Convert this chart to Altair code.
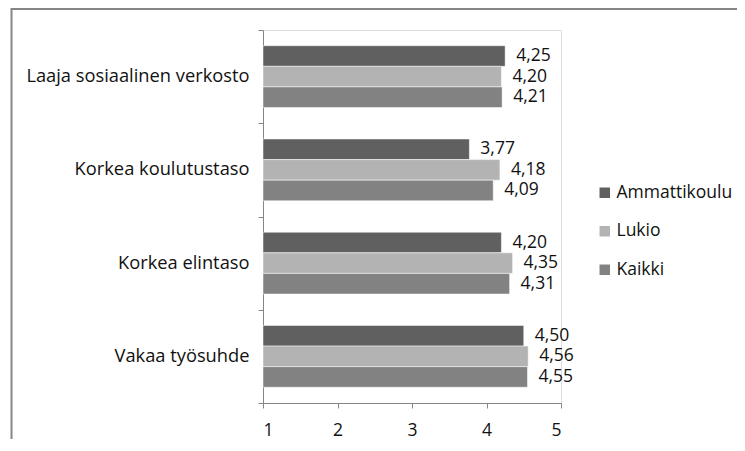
import altair as alt
import pandas as pd

categories = ["Laaja sosiaalinen verkosto", "Korkea koulutustaso", "Korkea elintaso", "Vakaa työsuhde"]
series = ["Ammattikoulu", "Lukio", "Kaikki"]
ammattikoulu = [4.25, 3.77, 4.20, 4.50]
lukio = [4.20, 4.18, 4.35, 4.56]
kaikki = [4.21, 4.09, 4.31, 4.55]
x_ticks = [1, 2, 3, 4, 5]
colors = ["#606060", "#b3b3b3", "#828282"]

rows = []
for s, vals in zip(series, [ammattikoulu, lukio, kaikki]):
    for c, v in zip(categories, vals):
        rows.append({"category": c, "series": s, "value": v,
                     "label": f"{v:.2f}".replace(".", ",")})
df = pd.DataFrame(rows)

FONT = "Open Sans"
FS = 17.5
TXT = "#111111"
AX = "#868686"

y_enc = alt.Y("category:N", sort=categories,
              scale=alt.Scale(paddingInner=0, paddingOuter=0),
              axis=alt.Axis(title=None, tickBand="extent", domainColor=AX,
                            tickColor=AX, tickSize=5, labelPadding=9,
                            labelFont=FONT, labelFontSize=18.3, labelColor=TXT,
                            labelLimit=400))
yoff = alt.YOffset("series:N", sort=series,
                   scale=alt.Scale(paddingInner=0, paddingOuter=0.765))
x_enc = alt.X("value:Q", scale=alt.Scale(domain=[1, 5], nice=False, zero=False),
              axis=alt.Axis(title=None, values=x_ticks, format="d", grid=False,
                            domainColor=AX, tickColor=AX, tickSize=5,
                            labelPadding=13, labelFont=FONT, labelFontSize=FS,
                            labelColor=TXT))

bars = alt.Chart(df).mark_bar(stroke="white", strokeWidth=0.5).encode(
    y=y_enc, yOffset=yoff, x=x_enc, x2=alt.datum(1),
    color=alt.Color("series:N", sort=series,
                    scale=alt.Scale(domain=series, range=colors),
                    legend=alt.Legend(title=None, orient="none", legendX=333, legendY=154,
                                      symbolType="square", symbolSize=110,
                                      symbolStrokeWidth=0, labelFont=FONT,
                                      labelFontSize=FS, labelColor=TXT,
                                      rowPadding=19.5, labelOffset=3)),
)

labels = alt.Chart(df).mark_text(align="left", baseline="middle", dx=11,
                                 font=FONT, fontSize=FS, color=TXT).encode(
    y=alt.Y("category:N", sort=categories), yOffset=alt.YOffset("series:N", sort=series),
    x="value:Q", text="label:N")

frame_data = alt.Data(values=[{"a": 1}])
frame_top = alt.Chart(frame_data).mark_rule(color=AX, strokeWidth=2).encode(
    x=alt.value(-252), x2=alt.value(480), y=alt.value(-21))
frame_left = alt.Chart(frame_data).mark_rule(color=AX, strokeWidth=2).encode(
    x=alt.value(-251.5), y=alt.value(-22), y2=alt.value(420))

chart = alt.layer(bars, labels, frame_top, frame_left).properties(
    width=298, height=373,
    autosize=alt.AutoSizeParams(type="none"),
    padding={"left": 255, "top": 22, "right": 176, "bottom": 36},
).configure_view(stroke=None).configure(background="white")

chart.save("out.html", embed_options={"renderer": "svg", "actions": False})
